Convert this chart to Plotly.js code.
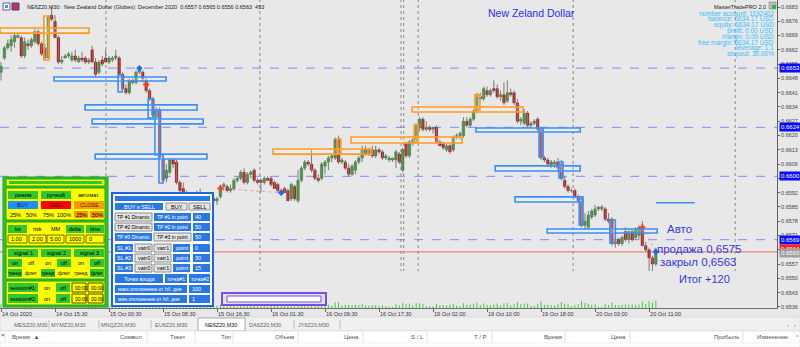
<!DOCTYPE html>
<html><head><meta charset="utf-8">
<script src="https://cdn.plot.ly/plotly-3.0.1.min.js"></script>
<style>html,body{margin:0;padding:0;background:#e8e8e8;overflow:hidden}#c{width:800px;height:347px}</style>
</head><body><div id="c"></div>
<script>
// ---------- DATA (NE6Z20, M30) ----------
const open = [0.6651,0.6658,0.6663,0.6664,0.6666,0.6668,0.6668,0.6659,0.6665,0.6664,
0.6666,0.6671,0.6665,0.6663,0.6658,0.6679,0.6676,0.6668,0.6656,0.6658,
0.6659,0.6657,0.6659,0.6656,0.6658,0.6658,0.6656,0.6662,0.6656,0.6651,
0.6657,0.6658,0.6656,0.6657,0.6658,0.6658,0.6650,0.6643,0.6641,0.6647,
0.6646,0.6651,0.6651,0.6647,0.6642,0.6638,0.6629,0.6632,0.6609,0.6599,
0.6602,0.6608,0.6607,0.6597,0.6594,0.6592,0.6591,0.6590,0.6591,0.6592,
0.6591,0.6589,0.6590,0.6589,0.6588,0.6590,0.6595,0.6595,0.6593,0.6594,
0.6598,0.6599,0.6602,0.6597,0.6601,0.6603,0.6598,0.6598,0.6597,0.6599,
0.6599,0.6597,0.6596,0.6592,0.6594,0.6593,0.6589,0.6595,0.6588,0.6598,
0.6604,0.6607,0.6606,0.6603,0.6599,0.6599,0.6605,0.6607,0.6609,0.6609,
0.6618,0.6607,0.6607,0.6604,0.6601,0.6603,0.6607,0.6609,0.6613,0.6611,
0.6613,0.6610,0.6613,0.6612,0.6609,0.6608,0.6608,0.6608,0.6611,0.6603,
0.6616,0.6610,0.6617,0.6618,0.6624,0.6628,0.6623,0.6624,0.6623,0.6624,
0.6617,0.6616,0.6613,0.6615,0.6613,0.6619,0.6620,0.6620,0.6627,0.6625,
0.6628,0.6632,0.6639,0.6638,0.6642,0.6640,0.6643,0.6643,0.6639,0.6640,
0.6637,0.6641,0.6641,0.6636,0.6627,0.6626,0.6631,0.6625,0.6626,0.6628,
0.6623,0.6609,0.6608,0.6605,0.6606,0.6607,0.6606,0.6598,0.6595,0.6593,
0.6593,0.6590,0.6588,0.6576,0.6575,0.6580,0.6581,0.6584,0.6584,0.6584,
0.6579,0.6579,0.6567,0.6569,0.6567,0.6573,0.6569,0.6573,0.6570,0.6571,
0.6575,0.6566,0.6564,0.6560,0.6557];
const high = [0.6656,0.6664,0.6667,0.6669,0.6670,0.6670,0.6669,0.6668,0.6667,0.6668,
0.6673,0.6672,0.6666,0.6665,0.6679,0.6683,0.6679,0.6669,0.6659,0.6660,
0.6661,0.6661,0.6662,0.6659,0.6661,0.6659,0.6658,0.6664,0.6658,0.6657,
0.6659,0.6662,0.6659,0.6659,0.6662,0.6659,0.6651,0.6645,0.6648,0.6648,
0.6652,0.6654,0.6652,0.6648,0.6643,0.6639,0.6634,0.6634,0.6610,0.6606,
0.6609,0.6609,0.6608,0.6598,0.6597,0.6593,0.6592,0.6592,0.6593,0.6594,
0.6592,0.6591,0.6592,0.6591,0.6590,0.6596,0.6597,0.6596,0.6596,0.6599,
0.6600,0.6603,0.6604,0.6602,0.6603,0.6604,0.6599,0.6599,0.6600,0.6600,
0.6600,0.6598,0.6597,0.6594,0.6595,0.6594,0.6597,0.6596,0.6603,0.6605,
0.6608,0.6608,0.6613,0.6604,0.6601,0.6607,0.6608,0.6610,0.6611,0.6619,
0.6620,0.6609,0.6608,0.6606,0.6606,0.6608,0.6610,0.6615,0.6615,0.6614,
0.6615,0.6615,0.6614,0.6613,0.6611,0.6610,0.6609,0.6613,0.6612,0.6614,
0.6617,0.6618,0.6619,0.6626,0.6629,0.6629,0.6627,0.6625,0.6624,0.6625,
0.6618,0.6617,0.6616,0.6616,0.6620,0.6621,0.6622,0.6629,0.6629,0.6629,
0.6633,0.6641,0.6641,0.6644,0.6644,0.6643,0.6647,0.6645,0.6642,0.6646,
0.6647,0.6643,0.6642,0.6638,0.6629,0.6633,0.6632,0.6627,0.6628,0.6629,
0.6624,0.6610,0.6609,0.6608,0.6608,0.6609,0.6608,0.6600,0.6596,0.6594,
0.6594,0.6591,0.6590,0.6582,0.6583,0.6584,0.6586,0.6585,0.6586,0.6585,
0.6582,0.6580,0.6570,0.6570,0.6571,0.6575,0.6574,0.6574,0.6575,0.6576,
0.6578,0.6568,0.6565,0.6561,0.6565];
const low = [0.6647,0.6657,0.6662,0.6661,0.6663,0.6668,0.6658,0.6658,0.6662,0.6663,
0.6665,0.6664,0.6659,0.6657,0.6657,0.6676,0.6668,0.6655,0.6655,0.6658,
0.6658,0.6656,0.6656,0.6656,0.6656,0.6655,0.6655,0.6656,0.6649,0.6650,
0.6654,0.6656,0.6655,0.6656,0.6657,0.6649,0.6642,0.6640,0.6640,0.6645,
0.6645,0.6650,0.6646,0.6641,0.6637,0.6629,0.6628,0.6608,0.6597,0.6597,
0.6601,0.6604,0.6596,0.6592,0.6590,0.6589,0.6588,0.6587,0.6589,0.6590,
0.6588,0.6587,0.6588,0.6586,0.6586,0.6589,0.6593,0.6592,0.6592,0.6593,
0.6597,0.6598,0.6596,0.6596,0.6599,0.6597,0.6596,0.6592,0.6596,0.6598,
0.6595,0.6594,0.6592,0.6591,0.6592,0.6588,0.6588,0.6588,0.6587,0.6597,
0.6603,0.6605,0.6602,0.6598,0.6597,0.6598,0.6601,0.6603,0.6607,0.6608,
0.6606,0.6606,0.6603,0.6600,0.6600,0.6601,0.6606,0.6607,0.6610,0.6610,
0.6609,0.6609,0.6611,0.6608,0.6608,0.6607,0.6607,0.6604,0.6606,0.6602,
0.6609,0.6609,0.6615,0.6617,0.6622,0.6622,0.6622,0.6622,0.6621,0.6616,
0.6615,0.6613,0.6612,0.6611,0.6612,0.6618,0.6618,0.6619,0.6624,0.6624,
0.6627,0.6631,0.6637,0.6637,0.6639,0.6639,0.6641,0.6638,0.6637,0.6635,
0.6636,0.6639,0.6635,0.6626,0.6625,0.6625,0.6624,0.6624,0.6625,0.6622,
0.6608,0.6607,0.6605,0.6604,0.6604,0.6602,0.6598,0.6594,0.6592,0.6592,
0.6589,0.6587,0.6575,0.6574,0.6574,0.6579,0.6580,0.6583,0.6583,0.6578,
0.6577,0.6566,0.6565,0.6566,0.6566,0.6568,0.6567,0.6568,0.6569,0.6569,
0.6566,0.6563,0.6553,0.6553,0.6556];
const close = [0.6654,0.6663,0.6665,0.6667,0.6669,0.6669,0.6659,0.6666,0.6664,0.6667,
0.6671,0.6665,0.6660,0.6658,0.6678,0.6677,0.6668,0.6656,0.6657,0.6659,
0.6660,0.6659,0.6657,0.6658,0.6657,0.6656,0.6657,0.6656,0.6650,0.6656,
0.6655,0.6656,0.6658,0.6658,0.6659,0.6650,0.6643,0.6641,0.6647,0.6646,
0.6651,0.6652,0.6648,0.6642,0.6638,0.6630,0.6632,0.6609,0.6598,0.6603,
0.6608,0.6606,0.6597,0.6593,0.6592,0.6591,0.6590,0.6591,0.6592,0.6591,
0.6589,0.6590,0.6589,0.6588,0.6589,0.6595,0.6596,0.6593,0.6594,0.6598,
0.6599,0.6602,0.6597,0.6601,0.6602,0.6598,0.6597,0.6597,0.6599,0.6598,
0.6596,0.6594,0.6593,0.6593,0.6592,0.6588,0.6596,0.6589,0.6598,0.6604,
0.6607,0.6606,0.6603,0.6599,0.6598,0.6606,0.6607,0.6609,0.6610,0.6618,
0.6607,0.6608,0.6604,0.6601,0.6605,0.6607,0.6609,0.6613,0.6611,0.6613,
0.6610,0.6613,0.6612,0.6609,0.6610,0.6609,0.6609,0.6612,0.6607,0.6613,
0.6610,0.6617,0.6618,0.6625,0.6628,0.6623,0.6624,0.6623,0.6624,0.6617,
0.6615,0.6614,0.6615,0.6612,0.6619,0.6620,0.6621,0.6627,0.6625,0.6628,
0.6632,0.6639,0.6638,0.6643,0.6640,0.6642,0.6642,0.6639,0.6640,0.6636,
0.6641,0.6640,0.6636,0.6627,0.6628,0.6631,0.6625,0.6626,0.6627,0.6623,
0.6609,0.6608,0.6606,0.6607,0.6607,0.6604,0.6599,0.6595,0.6593,0.6593,
0.6590,0.6588,0.6576,0.6578,0.6581,0.6583,0.6584,0.6585,0.6585,0.6579,
0.6578,0.6567,0.6568,0.6567,0.6570,0.6569,0.6573,0.6569,0.6574,0.6575,
0.6566,0.6564,0.6560,0.6557,0.6563];
const volume = [220,180,150,160,170,120,260,210,130,150,
190,170,160,200,520,300,280,340,160,90,
80,120,140,110,130,120,90,180,220,200,
140,150,120,110,130,260,310,280,200,140,
210,150,160,230,250,320,260,620,480,300,
280,160,330,240,200,150,140,160,130,120,
130,120,110,140,150,210,100,140,130,180,
90,120,200,170,130,190,120,180,140,90,
160,150,170,120,130,200,230,190,290,240,
180,150,210,190,140,220,180,190,150,330,
360,150,200,180,170,190,160,250,170,140,
170,180,120,160,110,70,60,230,150,280,
230,250,160,300,270,230,120,110,100,260,
170,180,150,190,260,150,140,290,200,210,
250,330,180,270,200,170,220,250,160,280,
300,170,220,360,220,260,270,120,140,250,
420,200,190,160,150,230,350,260,220,110,
190,220,430,300,260,200,230,90,80,250,
180,330,180,160,190,220,200,230,200,210,
380,260,420,330,453];

// time axis labels (bar index of each label)
const timeTickIdx = [0,16,32,48,64,80,96,112,128,144,160,176,192];
const timeTickLabels = ['14 Oct 2020','14 Oct 15:30','15 Oct 00:30','15 Oct 08:30','15 Oct 16:30','16 Oct 01:30','16 Oct 09:30','16 Oct 17:30','19 Oct 02:00','19 Oct 10:00','19 Oct 18:00','20 Oct 03:00','20 Oct 11:00'];

// horizontal levels
const levelPrices = [0.6653, 0.6624, 0.6600, 0.6569];
const levelLabels = ['0.6653','0.6624','0.6600','0.6569'];
const bidPrice = 0.6563;
// day separators (bar index)
const separatorIdx = [31.1, 76.7, 118.5, 119.3, 123.6, 169.5, 217.5];

// supply / demand zones
const zoneKind = ['o','o','o','o','o','o','o','o','b','b','b','b','b','b','b','b','b','b','b','b','b','b','b','b'];
const zoneX0 = [-0.3,12.7,80.6,99.6,103.7,122.4,121.8,140.4,15.7,34.7,24.9,43.6,27.0,45.6,27.9,46.8,140.7,159.4,146.4,165.3,152.3,171.3,161.8,180.4];
const zoneX1 = [26.1,14.2,109.9,100.7,136.6,123.6,154.7,141.9,48.9,35.9,58.1,45.0,59.9,47.1,61.0,48.0,171.6,160.6,171.6,166.5,172.4,172.4,194.4,182.0];
const zoneTop = [0.66727,0.66786,0.66134,0.66183,0.66193,0.66252,0.66340,0.66399,0.66487,0.66497,0.66350,0.66379,0.66281,0.66325,0.66109,0.66105,0.66237,0.66237,0.66051,0.66070,0.65899,0.65889,0.65742,0.65786];
const zoneBot = [0.66702,0.66570,0.66109,0.66109,0.66163,0.66168,0.66315,0.66325,0.66467,0.66413,0.66325,0.66286,0.66257,0.66105,0.66085,0.65967,0.66217,0.66095,0.66026,0.65992,0.65874,0.65761,0.65722,0.65673];
const tpSegX0 = [194], tpSegX1 = [205.5], tpSegPrice = [0.6587];

// trades
const tradeIdx = [41, 43, 65, 83, 190, 194];
const tradePrice = [0.6653, 0.6645, 0.6594, 0.6592, 0.6575, 0.6563];
const tradeSide = ['buy','sell','sell','buy','sell','buy'];
const tradeLinks = [[2,3],[4,5]];

// account info
const infoLines = ['number account: 1192402','balance: 6634.17 USD','equity: 6634.17 USD','profit: 0.00 USD','margin: 0.00 USD','free margin: 6634.17 USD','leverage: 1:1','stopout: 30.00%'];

// ---------- DRAW ----------
const FONT = 'Liberation Sans, Arial, sans-serif';
const PW = 777, PH = 308;
const px = x => x / PW, py = y => 1 - y / PH;
const shapes = [], annos = [];
function rect(x0,y0,x1,y1,fill,line,lw){
  shapes.push({type:'rect',xref:'paper',yref:'paper',x0:px(x0),x1:px(x1),y0:py(y1),y1:py(y0),
    fillcolor:fill||'rgba(0,0,0,0)',line:{color:line||'rgba(0,0,0,0)',width:line?(lw===undefined?1:lw):0},layer:'above'});
}
function seg(x0,y0,x1,y1,color,lw,dash){
  shapes.push({type:'line',xref:'paper',yref:'paper',x0:px(x0),x1:px(x1),y0:py(y0),y1:py(y1),line:{color:color,width:lw||1,dash:dash||'solid'},layer:'above'});
}
function text(x,y,s,color,size,anchor){
  annos.push({xref:'paper',yref:'paper',x:px(x),y:py(y),text:s,showarrow:false,xanchor:anchor||'center',yanchor:'middle',
    borderpad:0,font:{family:FONT,size:size||5.5,color:color||'#000'}});
}
function cell(x0,y0,x1,y1,fill,border,s,tcolor,align,size){
  rect(x0,y0,x1,y1,fill,border,border?1:0);
  if(align==='left') text(x0+1.5,(y0+y1)/2,s,tcolor,size,'left');
  else text((x0+x1)/2,(y0+y1)/2,s,tcolor,size,'center');
}

// zones (data coords)
zoneKind.forEach((k,i)=>{
  shapes.push({type:'rect',xref:'x',yref:'y',x0:zoneX0[i],x1:zoneX1[i],y0:zoneBot[i],y1:zoneTop[i],
    fillcolor:'rgba(255,255,255,0.18)',line:{color:k==='o'?'#ff9a1f':'#3a8ff5',width:1.6},layer:'above'});
});
tpSegX0.forEach((x,i)=>shapes.push({type:'line',xref:'x',yref:'y',x0:x,x1:tpSegX1[i],y0:tpSegPrice[i],y1:tpSegPrice[i],line:{color:'#3a8ff5',width:1.5},layer:'above'}));
levelPrices.forEach(p=>shapes.push({type:'line',xref:'paper',yref:'y',x0:0,x1:1,y0:p,y1:p,line:{color:'#9a9af2',width:1.3,dash:'dash'},layer:'below'}));
shapes.push({type:'line',xref:'paper',yref:'y',x0:0,x1:1,y0:bidPrice,y1:bidPrice,line:{color:'#f08585',width:1.3},layer:'below'});
separatorIdx.forEach(x=>shapes.push({type:'line',xref:'x',yref:'paper',x0:x,x1:x,y0:0,y1:1,line:{color:'#8a8a8a',width:1,dash:'dot'},layer:'below'}));
tradeLinks.forEach(([a,b])=>shapes.push({type:'line',xref:'x',yref:'y',x0:tradeIdx[a],x1:tradeIdx[b],y0:tradePrice[a],y1:tradePrice[b],line:{color:'#f0a0a0',width:1,dash:'dot'},layer:'below'}));

// ----- green control panel -----
const G='#33c633', GD='#1e9e1e', Y='#ffff00', OR='#ff9900';
rect(3,177,108,307,G,GD,1);
rect(6,179,105,186,Y,GD,1); rect(9,181,102,184,G);
rect(6,188,105,220,Y,GD,1);
cell(8,191,38,199,G,null,'режим'); cell(41,191,71,199,G,null,'ручной'); cell(74,191,104,199,Y,null,'автомат.');
cell(8,201,38,209,'#1e90ff',null,'BUY','#001a55'); cell(41,201,71,209,'#ff0000',null,'SELL','#400000'); cell(74,201,104,209,OR,null,'CLOSE','#333');
[[8,23,'25%',Y],[24,39,'50%',Y],[41,55,'75%',Y],[57,71,'100%',Y],[74,88,'25%',OR],[90,104,'50%',OR]].forEach(c=>cell(c[0],211,c[1],218,c[3],null,c[2]));
rect(6,222,105,246,Y,GD,1);
[[8,27,'lot',G],[29,46,'risk',Y],[47,64,'MM',Y],[66,84,'delta',G],[86,104,'time',G]].forEach(c=>cell(c[0],225,c[1],233,c[3],null,c[2]));
[[8,27,'1.00'],[29,46,'2.00'],[47,64,'5.00'],[66,84,'1000'],[86,104,'0']].forEach(c=>cell(c[0],235,c[1],243,Y,'#7a6a00',c[2],'#000','left'));
rect(6,247,105,279,Y,GD,1);
[[8,38,'signal 1'],[41,71,'signal 2'],[74,104,'signal 3']].forEach(c=>cell(c[0],249,c[1],257,G,null,c[2]));
[[8,22,'on',G],[24,38,'off',Y],[41,55,'on',Y],[57,71,'off',G],[74,88,'on',Y],[90,104,'off',G]].forEach(c=>cell(c[0],259,c[1],267,c[3],null,c[2]));
[[8,22,'тренд',G],[24,38,'флет',Y],[41,55,'тренд',G],[57,71,'флет',Y],[74,88,'тренд',Y],[90,104,'флет',G]].forEach(c=>cell(c[0],269,c[1],277,c[3],null,c[2],'#000','center',5));
rect(6,281,105,305,Y,GD,1);
[[283,292,'session#1:'],[294,303,'session#2:']].forEach(r=>{
  cell(8,r[0],38,r[1],G,null,r[2]);
  cell(40,r[0],54,r[1],Y,null,'on');
  cell(56,r[0],70,r[1],G,null,'off');
  cell(72,r[0],86,r[1],Y,'#5a4a00','00:00','#000','left',5);
  cell(88,r[0],103,r[1],Y,'#5a4a00','00:00','#000','left',5);
});

// ----- blue panel -----
const BL='#2a78e4', GR='#e6e6e6', GB='#8a8a8a', W='#ffffff';
rect(112,193,213,306,'#ffffff','#1e66d8',2);
rect(115,196,210,201,BL);
cell(115,203,163,210,BL,null,'BUY и SELL',W); cell(166,203,187,210,GR,GB,'BUY'); cell(189,203,210,210,GR,GB,'SELL');
cell(115,213,152,221,GR,GB,'TP #1 Dinamic','#000','center',5); cell(154,213,191,221,BL,null,'TP #1 in point',W,'center',5); cell(193,213,210,221,BL,null,'40',W,'left');
cell(115,223,152,231,GR,GB,'TP #2 Dinamic','#000','center',5); cell(154,223,191,231,BL,null,'TP #2 in point',W,'center',5); cell(193,223,210,231,BL,null,'50',W,'left');
cell(115,233,152,241,BL,null,'TP #3 Dinamic',W,'center',5); cell(154,233,191,241,GR,GB,'TP #3 in point','#000','center',5); cell(193,233,210,241,BL,null,'50',W,'left');
[[244,252,'SL #1:','0'],[254,262,'SL #2:','30'],[264,272,'SL #3:','15']].forEach(r=>{
  cell(115,r[0],133,r[1],BL,null,r[2],W,'left');
  cell(135,r[0],152,r[1],GR,GB,'vatr0');
  cell(154,r[0],171,r[1],GR,GB,'vatr1');
  cell(173,r[0],190,r[1],BL,null,'point',W);
  cell(193,r[0],210,r[1],BL,null,r[3],W,'left');
});
cell(115,274,163,283,BL,null,'Точки входа',W); cell(165,274,187,283,BL,null,'точка#1',W,'center',5); cell(189,274,210,283,BL,null,'точка#2',W,'center',5);
cell(115,285,187,293,BL,null,'макс.отклонение от h/l. дня',W,'left',5); cell(189,285,210,293,BL,null,'100',W,'left');
cell(115,295,187,303,BL,null,'мин.отклонение от h/l. дня',W,'left',5); cell(189,295,210,303,BL,null,'1',W,'left');

// purple box
rect(222,293,326,305,'#e6defc','#7a4fe0',2);
rect(227,296,321,302,'#ffffff','#7a4fe0',1);

// ----- header texts -----
rect(3,3,10,10,'#ffffff','#5566aa',1); rect(5,5,8,8,'#6688cc');
rect(12,3,19,10,'#cc3344','#3344aa',1);
text(26,7,'NE6Z20,M30:  New Zealand Dollar (Globex): December 2020  0.6557 0.6565 0.6556 0.6563  453','#222',5.5,'left');
text(531,12.5,'New Zeland Dollar','#2b2bff',10.5,'center');
text(767,7,'MasterTradePRO 2.0','#222',5.5,'right');
rect(769,2,776,9,'#bdbdbd','#777',0.5); rect(772,5,776,9,'#33bb33');
infoLines.forEach((s,k)=>text(775,13+5.9*k,s,'#35c2ff',6.5,'right'));

// trade annotations
text(666,228.5,'Авто','#3636e0',11.5,'left');
text(742,249,'продажа 0,6575','#3636e0',11.5,'right');
text(737,261.5,'закрыл 0,6563','#3636e0',11.5,'right');
text(678,278.5,'Итог +120','#3636e0',11,'left');

// ----- bottom UI (tabs + terminal header) -----
rect(0,317,800,331,'#f0f0f0','#cfcfcf',0.5);
rect(198,318,245,331,'#ffffff','#a8a8a8',1);
[[31,'MESZ20,M30'],[68,'MYMZ20,M30'],[119,'MNQZ20,M30'],[171,'EU6Z20,M30'],[221,'NE6Z20,M30'],[265,'DA6Z20,M30'],[313,'JY6Z20,M30']].forEach(t=>text(t[0],324.5,t[1],t[1]==='NE6Z20,M30'?'#111':'#666',5.5,'center'));
[49,99,151,294,340].forEach(x=>seg(x,320,x,329,'#c0c0c0',1));
text(788,324.5,'‹','#888',6,'center'); text(795,324.5,'›','#888',6,'center');
rect(0,331,800,347,'#ffffff','#d6d6d6',0.5);
seg(0,343,800,343,'#e0e0e0',0.5);
[5,147,195,233,298,363,427,492,565,630,743].forEach(x=>seg(x,332,x,343,'#e2e2e2',1));
text(3,335,'×','#444',6,'center');
text(11,337,'Время  ▲','#555',6,'left');
[[143,'Символ'],[187,'Тикет'],[232,'Тип'],[295,'Объем'],[360,'Цена'],[425,'S / L'],[488,'T / P'],[563,'Время'],[627,'Цена'],[740,'Прибыль'],[790,'Изменение']].forEach(t=>text(t[0],337,t[1],'#555',6,'right'));
text(797,337,'^','#777',5,'center');

// price labels on right axis
levelPrices.forEach((p,k)=>annos.push({xref:'paper',yref:'y',x:1.002,y:p,xanchor:'left',yanchor:'middle',text:levelLabels[k],showarrow:false,
  bgcolor:'#0a0aff',borderpad:1,font:{family:FONT,size:6,color:'#ffffff'}}));
annos.push({xref:'paper',yref:'y',x:1.002,y:bidPrice+0.00012,xanchor:'left',yanchor:'middle',text:'0.6564',showarrow:false,bgcolor:'#ff2020',borderpad:1,font:{family:FONT,size:6,color:'#ffffff'}});
annos.push({xref:'paper',yref:'y',x:1.002,y:bidPrice-0.00005,xanchor:'left',yanchor:'middle',text:'0.6563',showarrow:false,bgcolor:'#a0a0a0',borderpad:1,font:{family:FONT,size:6,color:'#ffffff'}});

// ----- traces -----
const idx = open.map((_, i) => i);
const wx = [], wy = [];
idx.forEach(i => { wx.push(i, i, null); wy.push(low[i], high[i], null); });
const isUp = idx.map(i => close[i] > open[i]);
const traces = [
  {type:'bar', x:idx, y:volume, yaxis:'y2', marker:{color:'#3ccf3c'}, width:0.3, hoverinfo:'skip'},
  {type:'scatter', mode:'lines', x:wx, y:wy, line:{color:'#7a7a7a', width:1}, hoverinfo:'skip', connectgaps:false},
  {type:'bar', x:idx, base:open, y:idx.map(i => close[i] - open[i]), width:0.74, hoverinfo:'skip',
    marker:{color:isUp.map(u => u ? '#31a631' : '#d40000'),
      line:{color:isUp.map(u => u ? '#1d6b1d' : '#7a0000'), width:0.4}}},
  {type:'scatter', mode:'markers', x:tradeIdx, y:tradePrice, hoverinfo:'skip',
    marker:{symbol:tradeSide.map(s=>s==='buy'?'diamond':'cross'), size:5,
      color:tradeSide.map(s=>s==='buy'?'#1a6ef0':'#ff3a1a'), line:{width:0}}}
];

const layout = {
  width:800, height:347, margin:{l:0, r:23, t:0, b:39},
  paper_bgcolor:'#e8e8e8', plot_bgcolor:'#e8e8e8', showlegend:false, barmode:'overlay',
  font:{family:FONT, size:6, color:'#333'},
  xaxis:{range:[-0.3,229.9], tickmode:'array', tickvals:timeTickIdx, ticktext:timeTickLabels,
    ticks:'outside', ticklen:3, tickcolor:'#666', ticklabelposition:'outside right',
    tickfont:{family:FONT, size:5.5, color:'#333'}, showline:true, linecolor:'#707070', linewidth:1,
    showgrid:false, zeroline:false, automargin:false, fixedrange:true},
  yaxis:{side:'right', range:[0.653545,0.668643], tickmode:'linear', tick0:0.6543, dtick:0.0007, tickformat:'.4f',
    ticks:'outside', ticklen:2, tickcolor:'#666', tickfont:{family:FONT, size:5.5, color:'#444'},
    showline:true, linecolor:'#606060', linewidth:1, showgrid:false, zeroline:false, automargin:false, fixedrange:true},
  yaxis2:{domain:[0,0.12], range:[0,2200], visible:false, anchor:'x', fixedrange:true},
  shapes:shapes, annotations:annos
};
Plotly.newPlot('c', traces, layout, {staticPlot:true, displayModeBar:false});
</script>
</body></html>
